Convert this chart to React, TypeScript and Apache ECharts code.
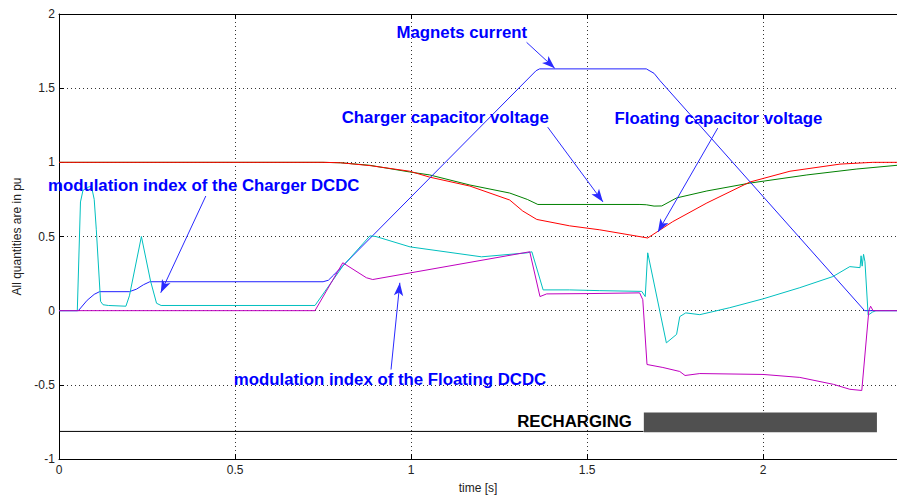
import React, { useEffect, useRef } from "react";
import * as echarts from "echarts";

// ---- Data (time in s, values in pu) ----
const magnetT = [0, 0.055, 0.08, 0.1, 0.115, 0.2, 0.22, 0.24, 0.258, 0.75, 0.765, 0.78, 1.355, 1.365, 1.668, 1.69, 1.706, 2.288, 2.38];
const magnetV = [0, 0, 0.07, 0.11, 0.128, 0.128, 0.145, 0.175, 0.195, 0.195, 0.205, 0.24, 1.618, 1.63, 1.63, 1.6, 1.553, 0, 0];

const chargerCapT = [0, 0.75, 0.8, 0.883, 0.996, 1.053, 1.167, 1.28, 1.33, 1.36, 1.65, 1.668, 1.69, 1.712, 1.754, 1.84, 1.962, 2.124, 2.266, 2.38];
const chargerCapV = [1, 1, 0.997, 0.98, 0.935, 0.915, 0.847, 0.793, 0.75, 0.716, 0.716, 0.714, 0.705, 0.706, 0.76, 0.807, 0.86, 0.915, 0.955, 0.98];

const floatingCapT = [0, 0.75, 0.8, 0.883, 0.996, 1.053, 1.167, 1.28, 1.317, 1.357, 1.45, 1.536, 1.672, 1.743, 1.84, 1.962, 2.076, 2.218, 2.311, 2.38];
const floatingCapV = [1, 1, 0.997, 0.978, 0.94, 0.9, 0.84, 0.746, 0.672, 0.615, 0.572, 0.545, 0.49, 0.6, 0.726, 0.867, 0.94, 0.988, 1.0, 1.0];

const chargerModT = [0, 0.052, 0.061, 0.068, 0.08, 0.092, 0.1, 0.106, 0.118, 0.125, 0.14, 0.19, 0.2, 0.234, 0.26, 0.277, 0.29, 0.727, 0.806, 0.883, 0.9, 0.997, 1.2, 1.33, 1.343, 1.375, 1.45, 1.536, 1.655, 1.665, 1.672, 1.725, 1.754, 1.763, 1.78, 1.82, 1.905, 2.0, 2.104, 2.198, 2.246, 2.275, 2.278, 2.281, 2.285, 2.289, 2.298, 2.31, 2.32, 2.38];
const chargerModV = [0, 0, 0.733, 0.81, 0.83, 0.84, 0.75, 0.545, 0.063, 0.04, 0.035, 0.03, 0.1, 0.5, 0.2, 0.05, 0.035, 0.035, 0.3, 0.504, 0.5, 0.43, 0.363, 0.39, 0.397, 0.14, 0.14, 0.135, 0.13, 0.095, 0.39, -0.217, -0.16, -0.04, -0.015, -0.027, 0.02, 0.08, 0.155, 0.23, 0.297, 0.29, 0.37, 0.3, 0.38, 0.33, -0.03, -0.01, 0, 0];

const floatingModT = [0, 0.727, 0.806, 0.873, 0.891, 1.337, 1.366, 1.385, 1.5, 1.649, 1.658, 1.67, 1.715, 1.763, 1.778, 1.82, 2.0, 2.104, 2.2, 2.246, 2.28, 2.3, 2.305, 2.312, 2.38];
const floatingModV = [0, 0, 0.323, 0.222, 0.21, 0.397, 0.095, 0.113, 0.115, 0.12, 0.074, -0.363, -0.383, -0.41, -0.437, -0.424, -0.43, -0.45, -0.497, -0.53, -0.538, 0.0, 0.03, 0.0, 0];

const rechargeLineT = [0, 1.66];
const rechargeLineV = [-0.814, -0.814];
const rechargeBar = { t0: 1.661, t1: 2.323, v0: -0.82, v1: -0.686 };

const xTicks = [0, 0.5, 1, 1.5, 2];
const yTicks = [-1, -0.5, 0, 0.5, 1, 1.5, 2];

const annotations = [
  { text: "Magnets current", t: 1.144, v: 1.876, color: "#0000ff" },
  { text: "Charger capacitor voltage", t: 1.097, v: 1.305, color: "#0000ff" },
  { text: "Floating capacitor voltage", t: 1.873, v: 1.298, color: "#0000ff" },
  { text: "modulation index of the Charger DCDC", t: 0.411, v: 0.847, color: "#0000ff" },
  { text: "modulation index of the Floating DCDC", t: 0.94, v: -0.464, color: "#0000ff" },
  { text: "RECHARGING", t: 1.464, v: -0.746, color: "#000000" },
];

const arrows = [
  [1.328, 1.809, 1.408, 1.634],
  [1.388, 1.237, 1.545, 0.733],
  [1.871, 1.231, 1.701, 0.531],
  [0.417, 0.773, 0.289, 0.121],
  [0.943, -0.397, 0.968, 0.188],
];

const zip = (t: number[], v: number[]) => t.map((x, i) => [x, v[i]]);

const FONT = '"Liberation Sans", Arial, Helvetica, sans-serif';

function lineSeries(name: string, t: number[], v: number[], color: string, width = 1) {
  return {
    name,
    type: "line",
    data: zip(t, v),
    showSymbol: false,
    symbol: "none",
    silent: true,
    lineStyle: { color, width },
    xAxisIndex: 0,
    yAxisIndex: 0,
  };
}

export default function App() {
  const ref = useRef<HTMLDivElement>(null);
  useEffect(() => {
    const chart = echarts.init(ref.current!, null, { renderer: "svg" });
    const isTick = (val: number, arr: number[]) => arr.some((a) => Math.abs(a - val) < 1e-6);
    const option: any = {
      animation: false,
      backgroundColor: "#ffffff",
      grid: { left: 59, top: 14, right: 0, bottom: 39, containLabel: false },
      xAxis: [
        {
          type: "value",
          position: "bottom",
          min: 0,
          max: 2.38,
          interval: 0.5,
          name: "time [s]",
          nameLocation: "middle",
          nameGap: 23,
          nameTextStyle: { color: "#222", fontSize: 12, fontFamily: FONT },
          axisLine: { show: true, onZero: false, lineStyle: { color: "#000", width: 1 } },
          axisTick: { show: true, inside: true, length: 5, lineStyle: { color: "#000" } },
          axisLabel: {
            color: "#222",
            fontSize: 12,
            fontFamily: FONT,
            margin: 5,
            showMaxLabel: false,
            formatter: (val: number) => (isTick(val, xTicks) ? String(val) : ""),
          },
          splitLine: { show: true, lineStyle: { color: "#333", type: [1, 3], width: 1 } },
        },
        {
          type: "value",
          position: "top",
          min: 0,
          max: 2.38,
          interval: 0.5,
          axisLine: { show: true, onZero: false, lineStyle: { color: "#000", width: 1 } },
          axisTick: { show: true, inside: true, length: 5, lineStyle: { color: "#000" } },
          axisLabel: { show: false },
          splitLine: { show: false },
        },
      ],
      yAxis: [
        {
          type: "value",
          position: "left",
          min: -1,
          max: 2,
          interval: 0.5,
          name: "All quantities are in pu",
          nameLocation: "middle",
          nameGap: 36,
          nameRotate: 90,
          nameTextStyle: { color: "#222", fontSize: 12, fontFamily: FONT },
          axisLine: { show: true, onZero: false, lineStyle: { color: "#000", width: 1 } },
          axisTick: { show: true, inside: true, length: 5, lineStyle: { color: "#000" } },
          axisLabel: {
            color: "#222",
            fontSize: 12,
            fontFamily: FONT,
            margin: 4,
            formatter: (val: number) => (isTick(val, yTicks) ? String(val) : ""),
          },
          splitLine: { show: true, lineStyle: { color: "#333", type: [1, 3], width: 1 } },
        },
      ],
      series: [
        lineSeries("Charger capacitor voltage", chargerCapT, chargerCapV, "#008000"),
        lineSeries("Floating capacitor voltage", floatingCapT, floatingCapV, "#ff0000"),
        lineSeries("Magnets current", magnetT, magnetV, "#2020ff"),
        lineSeries("modulation index of the Charger DCDC", chargerModT, chargerModV, "#00bfbf"),
        lineSeries("modulation index of the Floating DCDC", floatingModT, floatingModV, "#bf00bf"),
        {
          ...lineSeries("recharge", rechargeLineT, rechargeLineV, "#000000"),
          markArea: {
            silent: true,
            itemStyle: { color: "#505050" },
            data: [
              [
                { coord: [rechargeBar.t0, rechargeBar.v1] },
                { coord: [rechargeBar.t1, rechargeBar.v0] },
              ],
            ],
          },
        },
        {
          type: "line",
          name: "arrows",
          data: [],
          silent: true,
          markLine: {
            silent: true,
            symbol: ["none", "arrow"],
            symbolSize: [7, 13],
            label: { show: false },
            lineStyle: { color: "#2a2aff", width: 1, type: "solid" },
            emphasis: { disabled: true },
            data: arrows.map((a) => [
              { coord: [a[0], a[1]], itemStyle: { color: "#0000ff" } },
              { coord: [a[2], a[3]], itemStyle: { color: "#0000ff" } },
            ]),
          },
        },
      ],
    };
    chart.setOption(option);
    const graphic = annotations.map((a) => {
      const p = chart.convertToPixel({ xAxisIndex: 0, yAxisIndex: 0 }, [a.t, a.v]) as number[];
      return {
        type: "text",
        x: p[0],
        y: p[1],
        z: 100,
        style: {
          text: a.text,
          fill: a.color,
          font: `bold 16.8px ${FONT}`,
          align: "center",
          verticalAlign: "middle",
        },
      };
    });
    chart.setOption({ graphic });
    return () => chart.dispose();
  }, []);
  return (
    <div
      ref={ref}
      style={{ position: "absolute", left: 0, top: 0, width: 897, height: 499 }}
    />
  );
}
